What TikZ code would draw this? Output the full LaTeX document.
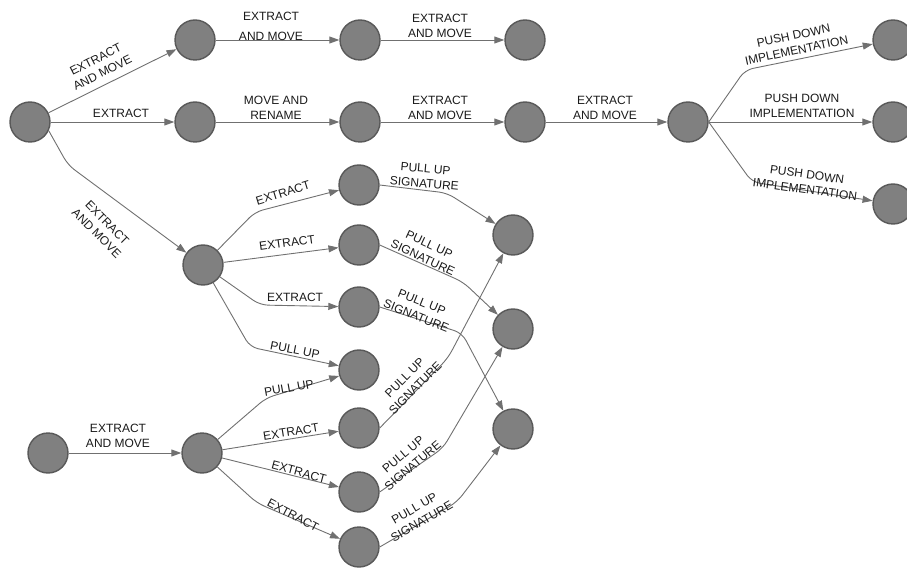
\documentclass[tikz,border=0pt]{standalone}
\usepackage{fontspec}
\setmainfont{Liberation Sans}
\usetikzlibrary{arrows.meta}
\definecolor{vtxfill}{HTML}{808080}
\definecolor{vtxline}{HTML}{595959}
\definecolor{edgegray}{HTML}{707070}
\definecolor{txtgray}{HTML}{1A1A1A}

\begin{document}
\begin{tikzpicture}[x=1pt,y=-1pt,font=\fontsize{12}{15}\selectfont,
   >={Triangle[length=10pt,width=7pt]},
   vtx/.style={circle,draw=vtxline,fill=vtxfill,line width=1.4pt,minimum size=40pt,inner sep=0pt},
   edge/.style={edgegray,line width=0.9pt,->,rounded corners=8pt},
   lbl/.style={txtgray,align=center,inner sep=1pt}]
  \useasboundingbox (0,0) rectangle (907,569);
  % vertices
  \foreach \n/\x/\y in {A/30/122,B1/195/40,B2/195/122,C1/360/40,C2/360/122,
      D1/525/40,D2/525/122,E/688/122,F1/893/40,F2/893/122,F3/893/204,
      G/203/265,H1/359/185,H2/359/245,H3/359/307,H4/359/370,H5/359/428,
      H6/359/492,H7/359/547,I1/513/235,I2/513/329,I3/513/429,J/48/453,K/202/453}
    {\node[vtx] (\n) at (\x,\y) {};}
  % top rows
  \draw[edge] (A) -- (B1);
  \draw[edge] (A) -- (B2);
  \draw[edge] (A.-25) -- (68,165) -- (G);
  \draw[edge] (B1) -- (C1);
  \draw[edge] (C1) -- (D1);
  \draw[edge] (B2) -- (C2);
  \draw[edge] (C2) -- (D2);
  \draw[edge] (D2) -- (E);
  \draw[edge] (E.east) -- (745,70) -- (F1);
  \draw[edge] (E) -- (F2);
  \draw[edge] (E.east) -- (752,182) -- (F3);
  \node[lbl,rotate=27] (tAB1) at (99,66) {EXTRACT\\AND MOVE};
  \node[lbl] (tAB2) at (121,113) {EXTRACT};
  \node[lbl,rotate=-45] (tAG) at (102,228) {EXTRACT\\AND MOVE};
  \node[lbl] (tBC1) at (271,26) {EXTRACT\\[5pt]AND MOVE};
  \node[lbl] (tCD1) at (440,26) {EXTRACT\\AND MOVE};
  \node[lbl] (tBC2) at (276,108) {MOVE AND\\RENAME};
  \node[lbl] (tCD2) at (440,108) {EXTRACT\\AND MOVE};
  \node[lbl] (tDE) at (605,108) {EXTRACT\\AND MOVE};
  \node[lbl,rotate=12] (tEF1) at (795,43) {PUSH DOWN\\IMPLEMENTATION};
  \node[lbl] (tEF2) at (802,106) {PUSH DOWN\\IMPLEMENTATION};
  \node[lbl,rotate=-8] (tEF3) at (806,182) {PUSH DOWN\\IMPLEMENTATION};
  % middle fan
  \draw[edge] (G) -- (255,212) -- (H1);
  \draw[edge] (G) -- (H2);
  \draw[edge] (G) -- (260,305) -- (H3);
  \draw[edge] (G) -- (250,347) -- (H4);
  \node[lbl,rotate=17] (tGH1) at (283,193) {EXTRACT};
  \node[lbl,rotate=8] (tGH2) at (287,243) {EXTRACT};
  \node[lbl] (tGH3) at (295,297) {EXTRACT};
  \node[lbl,rotate=-11] (tGH4) at (295,350) {PULL UP};
  % lower fan
  \draw[edge] (J) -- (K);
  \draw[edge] (K) -- (266,398) -- (H4);
  \draw[edge] (K) -- (H5);
  \draw[edge] (K) -- (H6);
  \draw[edge] (K) -- (257,503) -- (H7);
  \node[lbl] (tJK) at (118,436) {EXTRACT\\AND MOVE};
  \node[lbl,rotate=10] (tKH4) at (289,388) {PULL UP};
  \node[lbl,rotate=9] (tKH5) at (291,432) {EXTRACT};
  \node[lbl,rotate=-15] (tKH6) at (299,472) {EXTRACT};
  \node[lbl,rotate=-28] (tKH7) at (293,515) {EXTRACT};
  % pull up signature
  \draw[edge] (H1.east) -- (447,193) -- (I1);
  \draw[edge] (H2.east) -- (463,282) -- (I2);
  \draw[edge] (H3.east) -- (462,333) -- (I3);
  \draw[edge] (H5.east) -- (448,358) -- (I1);
  \draw[edge] (H6.east) -- (443,448) -- (I2);
  \draw[edge] (H7.east) -- (457,502) -- (I3);
  \node[lbl,rotate=-5] (tHI1) at (425,176) {PULL UP\\SIGNATURE};
  \node[lbl,rotate=-25] (tHI2) at (426,251) {PULL UP\\SIGNATURE};
  \node[lbl,rotate=-22] (tHI3) at (419,309) {PULL UP\\SIGNATURE};
  \node[lbl,rotate=45] (tHI5) at (410,383) {PULL UP\\SIGNATURE};
  \node[lbl,rotate=40] (tHI6) at (408,460) {PULL UP\\SIGNATURE};
  \node[lbl,rotate=30] (tHI7) at (418,515) {PULL UP\\SIGNATURE};
\end{tikzpicture}
\end{document}
